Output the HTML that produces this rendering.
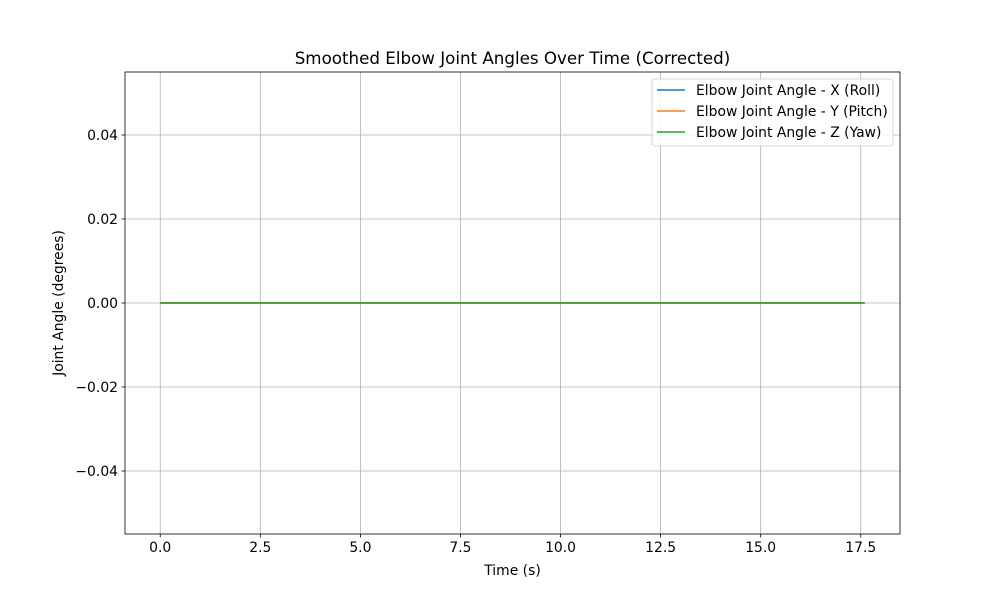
<!DOCTYPE html>
<html><head><meta charset="utf-8"><style>
body{margin:0;background:#fff;font-family:"Liberation Sans","DejaVu Sans",sans-serif;}
svg text{font-family:"DejaVu Sans","Liberation Sans",sans-serif;}
</style></head><body>
<svg id="c" width="1000" height="600"></svg>
<script>
const times = [0, 2, 4, 6, 8, 10, 12, 14, 16, 17.6];
const rollValues = [0,0,0,0,0,0,0,0,0,0];
const pitchValues = [0,0,0,0,0,0,0,0,0,0];
const yawValues = [0,0,0,0,0,0,0,0,0,0];
const xTicks = [0, 2.5, 5, 7.5, 10, 12.5, 15, 17.5];
const xTickLabels = ["0.0","2.5","5.0","7.5","10.0","12.5","15.0","17.5"];
const yTicks = [-0.04, -0.02, 0, 0.02, 0.04];
const yTickLabels = ["−0.04","−0.02","0.00","0.02","0.04"];
const seriesNames = ["Elbow Joint Angle - X (Roll)","Elbow Joint Angle - Y (Pitch)","Elbow Joint Angle - Z (Yaw)"];

const L=125,R=900,T=72,B=534;
const xMin=-0.88,xMax=18.48,yMin=-0.055,yMax=0.055;
const sx=v=>L+(v-xMin)/(xMax-xMin)*(R-L);
const sy=v=>B-(v-yMin)/(yMax-yMin)*(B-T);
const svg=document.getElementById('c');
const NS='http://www.w3.org/2000/svg';
function mk(tag,attrs,parent){const e=document.createElementNS(NS,tag);for(const k in attrs)e.setAttribute(k,attrs[k]);(parent||svg).appendChild(e);return e;}

xTicks.forEach((t,i)=>{
  const g=mk('g',{});
  
  
  const x=sx(t);
  mk('line',{x1:x,x2:x,y1:T,y2:B,stroke:'#b0b0b0','stroke-width':0.8},g);
  mk('line',{x1:x,x2:x,y1:B,y2:B+3.5,stroke:'#000','stroke-width':0.8},g);
  const tx=mk('text',{x:x,y:B+18,'font-size':13.9,'text-anchor':'middle'},g);tx.textContent=xTickLabels[i];
});
yTicks.forEach((t,i)=>{
  const g=mk('g',{});
  
  
  const y=sy(t);
  mk('line',{x1:L,x2:R,y1:y,y2:y,stroke:'#b0b0b0','stroke-width':0.8},g);
  mk('line',{x1:L-3.5,x2:L,y1:y,y2:y,stroke:'#000','stroke-width':0.8},g);
  const tx=mk('text',{x:L-7,y:y+5,'font-size':13.9,'text-anchor':'end'},g);tx.textContent=yTickLabels[i];
});

const colors=['#1f77b4','#ff7f0e','#2ca02c'];
const names=['series-roll','series-pitch','series-yaw'];
[rollValues,pitchValues,yawValues].forEach((vals,s)=>{
  const p=mk('polyline',{points:times.map((t,i)=>sx(t)+','+sy(vals[i])).join(' '),fill:'none',stroke:colors[s],'stroke-width':1.5});
  
  
});

const frame=mk('rect',{x:L,y:T,width:R-L,height:B-T,fill:'none',stroke:'#000','stroke-width':0.8});



const title=mk('text',{x:(L+R)/2,y:64,'font-size':16.7,'text-anchor':'middle'});
title.textContent='Smoothed Elbow Joint Angles Over Time (Corrected)';


const xl=mk('text',{x:(L+R)/2,y:575,'font-size':13.9,'text-anchor':'middle'});
xl.textContent='Time (s)';


const yl=mk('text',{x:0,y:0,'font-size':13.9,'text-anchor':'middle',transform:'translate(63,303) rotate(-90)'});
yl.textContent='Joint Angle (degrees)';



const lg=mk('g',{});


mk('rect',{x:652,y:79,width:241,height:67,rx:3,fill:'#fff','fill-opacity':0.8,stroke:'#ccc','stroke-width':0.8},lg);
seriesNames.forEach((n,i)=>{
  const e=mk('g',{},lg);
  
  
  const y=90+i*21;
  mk('line',{x1:657,x2:685,y1:y,y2:y,stroke:colors[i],'stroke-width':1.5},e);
  const t=mk('text',{x:696,y:y+5,'font-size':13.9},e);t.textContent=n;
});
</script>
</body></html>
